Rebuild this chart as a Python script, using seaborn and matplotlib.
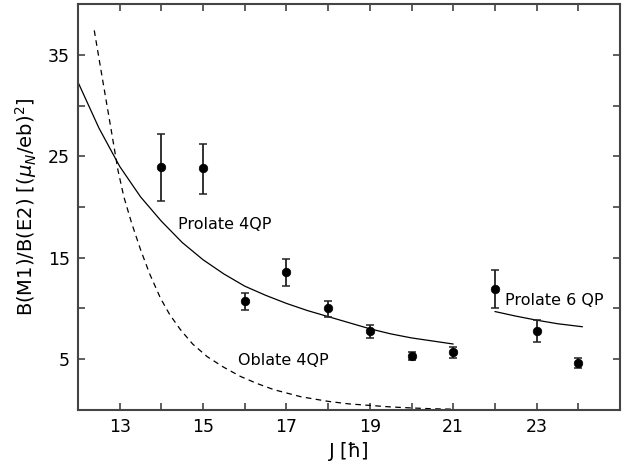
import numpy as np
import pandas as pd
import matplotlib
matplotlib.use('Agg')
import matplotlib.pyplot as plt
import seaborn as sns

# Datos experimentales
spin = [14, 15, 16, 17, 18, 19, 20, 21, 22, 23, 24]
ratio = [23.9, 23.8, 10.7, 13.6, 10.0, 7.8, 5.35, 5.7, 11.9, 7.8, 4.6]
err_up = [3.3, 2.4, 0.8, 1.3, 0.7, 0.6, 0.4, 0.5, 1.9, 1.05, 0.5]
err_down = [3.35, 2.5, 0.8, 1.4, 0.8, 0.7, 0.45, 0.6, 1.9, 1.1, 0.45]

# Curvas teóricas
prolate4_j = [12, 12.5, 13, 13.5, 14, 14.5, 15, 15.5, 16, 16.5, 17, 17.5, 18, 18.5, 19, 19.5, 20, 20.5, 21]
prolate4_v = [32.3, 27.8, 24.0, 21.0, 18.6, 16.5, 14.8, 13.4, 12.2, 11.3, 10.5, 9.8, 9.2, 8.6, 8.0, 7.5, 7.1, 6.8, 6.5]

oblate4_j = [12.39, 12.6, 12.8, 12.96, 13.1, 13.28, 13.5, 13.72, 13.98, 14.2, 14.46, 14.75, 15.1, 15.5, 15.9, 16.3, 16.7, 17.35, 18.0, 18.5, 19.0, 19.5, 20.0, 20.5, 21.0]
oblate4_v = [37.4, 32.3, 27.5, 23.6, 21.0, 18.5, 15.8, 13.4, 11.0, 9.4, 7.9, 6.5, 5.25, 4.2, 3.3, 2.6, 2.0, 1.3, 0.85, 0.6, 0.45, 0.3, 0.2, 0.12, 0.08]

prolate6_j = [22.0, 22.5, 23.0, 23.5, 24.1]
prolate6_v = [9.7, 9.25, 8.85, 8.5, 8.2]

sns.set_theme(style='ticks')
plt.rcParams['font.family'] = ['DejaVu Sans']
plt.rcParams['mathtext.fontset'] = 'dejavusans'
plt.rcParams['text.color'] = 'black'
plt.rcParams['axes.labelcolor'] = 'black'

fig = plt.figure(figsize=(6.31, 4.66), dpi=100)
ax = fig.add_axes([0.1236, 0.1202, 0.859, 0.8712])

curvas = pd.concat([
    pd.DataFrame({'J': prolate4_j, 'B': prolate4_v, 'modelo': 'Prolate 4QP'}),
    pd.DataFrame({'J': prolate6_j, 'B': prolate6_v, 'modelo': 'Prolate 6 QP'}),
    pd.DataFrame({'J': oblate4_j, 'B': oblate4_v, 'modelo': 'Oblate 4QP'}),
])

sns.lineplot(data=curvas, x='J', y='B', units='modelo', estimator=None,
             style='modelo', dashes={'Prolate 4QP': '', 'Prolate 6 QP': '', 'Oblate 4QP': (4.5, 3.5)},
             color='black', lw=0.9, sort=False, legend=False, ax=ax)

ax.errorbar(spin, ratio, yerr=[err_down, err_up], fmt='none', ecolor='#222222',
            elinewidth=1.3, capsize=3, capthick=1.1)
sns.scatterplot(x=spin, y=ratio, color='black', s=38, edgecolor='black', zorder=3, ax=ax)

ax.text(14.39, 18.3, 'Prolate 4QP', fontsize=11.5, va='center', ha='left', color='black')
ax.text(15.83, 4.9, 'Oblate 4QP', fontsize=11.5, va='center', ha='left', color='black')
ax.text(22.24, 10.8, 'Prolate 6 QP', fontsize=11.5, va='center', ha='left', color='black')

ax.set_xlim(12, 25)
ax.set_ylim(0, 40)
ax.set_xticks(range(12, 26))
ax.set_xticklabels([str(j) if j % 2 == 1 and 13 <= j <= 23 else '' for j in range(12, 26)])
ax.set_yticks(range(0, 41, 5))
ax.set_yticklabels([str(v) if v % 10 == 5 else '' for v in range(0, 41, 5)])
ax.tick_params(direction='in', length=5, width=1.1, top=True, right=True,
               labelsize=12.5, colors='#333333', labelcolor='black', pad=6)

for s in ax.spines.values():
    s.set_color('#444444')
    s.set_linewidth(1.5)

ax.set_xlabel('J [ħ]', fontsize=14, labelpad=4)
ax.set_ylabel(r'B(M1)/B(E2) [($\mu_N$/eb)$^2$]', fontsize=14, labelpad=6)

fig.savefig('out.png', dpi=100)
